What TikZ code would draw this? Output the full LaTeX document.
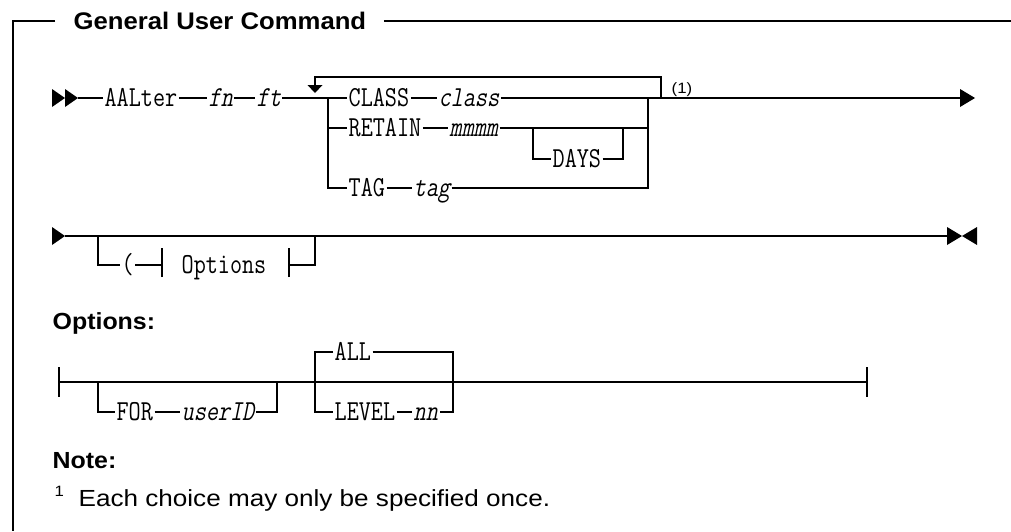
\documentclass[tikz,border=0pt]{standalone}
\usepackage{fontspec}
\newfontfamily\rmono[FakeStretch=0.81]{Latin Modern Mono}
\newfontfamily\rmonosl[FakeStretch=0.81,FakeSlant=0.2]{Latin Modern Mono}
\newfontfamily\rsans[FakeStretch=1.12]{Liberation Sans}
\newfontfamily\rsansb[FakeStretch=1.07]{Liberation Sans}
\begin{document}
\begin{tikzpicture}[x=1pt,y=-1pt,line width=1.3pt,
  kw/.style={font=\rmono\fontsize{29}{31}\selectfont,inner sep=0pt,inner xsep=1pt,text height=17.6pt,text depth=0pt,anchor=west},
  var/.style={kw,font=\rmonosl\fontsize{29}{31}\selectfont},
  hd/.style={font=\rsansb\bfseries\fontsize{23.3}{28}\selectfont,inner sep=0pt,text height=16.7pt,text depth=0pt,anchor=west},
  ttl/.style={hd,font=\rsansb\bfseries\fontsize{24}{28}\selectfont},
  txt/.style={font=\rsans\fontsize{23.3}{28}\selectfont,inner sep=0pt,text height=16.7pt,text depth=0pt,anchor=west},
  small/.style={font=\rsans\fontsize{15}{17}\selectfont,inner sep=0pt,anchor=west},
  frame/.style={line width=2pt}]
\useasboundingbox (0,0) rectangle (1011,531);
% frame and title
\node[ttl] (title) at (73,21) {General User Command};
\draw[frame] ([xshift=-18pt]title.west) -- (13,21) -- (13,531);
\draw[frame] ([xshift=17pt]title.east) -- (1011,21);
% ---------- line 1 ----------
\coordinate (L1s) at (78,98);
\fill (52,89) -- (65,98) -- (52,107) -- cycle;
\fill (65,89) -- (78,98) -- (65,107) -- cycle;
\node[kw] (aalter) at (103,98) {AALter};
\node[var] (fn) at (207,98) {fn};
\node[var] (ft) at (255,98) {ft};
\coordinate (c1L) at (328,98);
\coordinate (c1R) at (648,98);
\draw (L1s) -- (aalter.west);
\draw (aalter.east) -- (fn.west);
\draw (fn.east) -- (ft.west);
\draw (ft.east) -- (c1L);
\node[kw] (class) at (347,98) {CLASS};
\node[var] (classv) at (437,98) {class};
\node[kw] (retain) at (347,128) {RETAIN};
\node[var] (mmmm) at (448,128) {mmmm};
\node[kw] (days) at (551,159) {DAYS};
\node[kw] (tag) at (347,188) {TAG};
\node[var] (tagv) at (412,188) {tag};
\draw (c1L) -- (class.west);
\draw (class.east) -- (classv.west);
\draw (classv.east) -- (c1R);
\draw (c1L) -- (c1L |- tag) -- (tag.west);
\draw (c1L |- retain) -- (retain.west);
\draw (retain.east) -- (mmmm.west);
\draw (mmmm.east) -- (c1R |- mmmm);
\coordinate (d1) at (533,128);
\coordinate (d2) at (623,128);
\draw (d1) |- (days.west);
\draw (days.east) -| (d2);
\draw (tag.east) -- (tagv.west);
\draw (tagv.east) -| (c1R);
% repeat loop
\coordinate (lpL) at (315,77);
\coordinate (lpR) at (661,77);
\coordinate (lpA) at (315,86);
\draw (661,98) -- (lpR) -- (lpL) -- (lpA);
\fill (307.5,85) -- (322.5,85) -- (315,93) -- cycle;
\node[small] (ref1) at (671,90) {(1)};
\coordinate (L1e) at (960,98);
\draw (c1R) -- (L1e);
\fill (960,89) -- (975,98) -- (960,107) -- cycle;
% ---------- line 2 ----------
\coordinate (L2s) at (65,236);
\coordinate (L2e) at (947,236);
\fill (52,227) -- (65,236) -- (52,245) -- cycle;
\draw (L2s) -- (L2e);
\fill (947,227) -- (962,236) -- (947,245) -- cycle;
\fill (977,227) -- (962,236) -- (977,245) -- cycle;
\node[kw] (lpar) at (120,265) {(};
\node[kw] (opts) at (180,265) {Options};
\coordinate (o1) at (98,236);
\coordinate (o2) at (315,236);
\coordinate (b1) at (162,265);
\coordinate (b2) at (289,265);
\draw (o1) |- (lpar.west);
\draw (lpar.east) -- (b1);
\draw ([yshift=-12pt]b1) -- ([yshift=17pt]b1);
\draw ([yshift=-12pt]b2) -- ([yshift=17pt]b2);
\draw (b2) -| (o2);
% ---------- Options fragment ----------
\node[hd] (opthd) at (52,321) {Options:};
\coordinate (f1) at (59,382);
\coordinate (f2) at (867,382);
\draw (59,367) -- (59,397);
\draw (867,367) -- (867,397);
\draw (f1) -- (f2);
\node[kw] (for) at (115,412) {FOR};
\node[var] (uid) at (180,412) {userID};
\draw (98,382) |- (for.west);
\draw (for.east) -- (uid.west);
\draw (uid.east) -| (277,382);
\node[kw] (all) at (333,352) {ALL};
\node[kw] (level) at (333,412) {LEVEL};
\node[var] (nn) at (412,412) {nn};
\draw (all.west) -| (315,412) -- (level.west);
\draw (level.east) -- (nn.west);
\draw (all.east) -| (453,412) -- (nn.east);
% ---------- Note ----------
\node[hd] (notehd) at (52,460) {Note:};
\node[small] (sup) at (54,491) {1};
\node[txt] (note) at (78,498) {Each choice may only be specified once.};
\end{tikzpicture}
\end{document}
